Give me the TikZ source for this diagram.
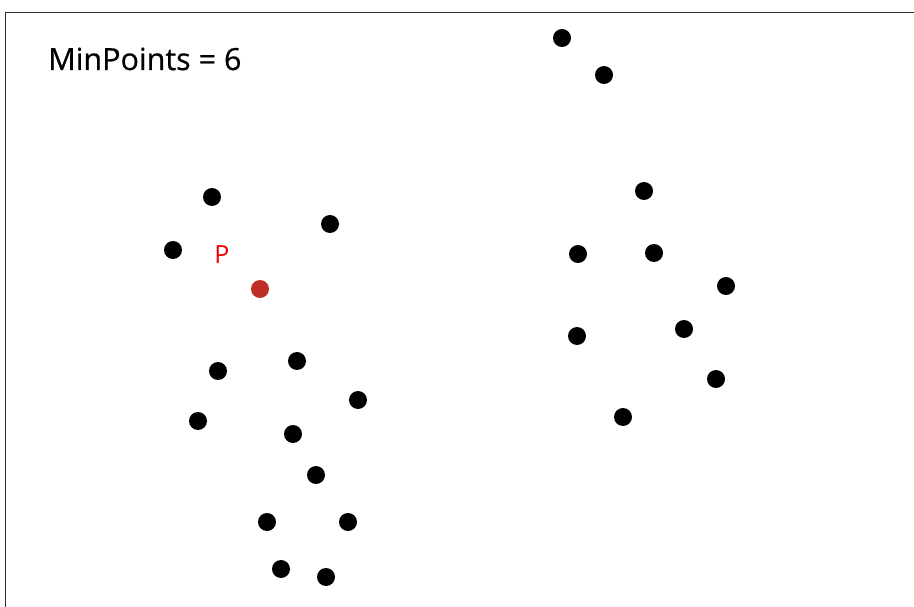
\documentclass[tikz,border=0pt]{standalone}
\usepackage{fontspec}
\setmainfont{Open Sans}
\newfontfamily\titlefont[FakeBold=0.6]{Open Sans}
\definecolor{pred}{RGB}{190,45,38}
\definecolor{ptxt}{RGB}{240,0,0}
\begin{document}
\begin{tikzpicture}[x=1pt,y=-1pt,
  dot/.style={circle,fill=black,inner sep=0pt,minimum size=18pt},
  reddot/.style={circle,fill=pred,inner sep=0pt,minimum size=18pt},
  frame/.style={draw=black!80,line width=0.9pt}]
\useasboundingbox (0,0) rectangle (914,607);
\draw[frame] (5,607) -- (5,12) -- (914,12);
\node[anchor=base west,inner sep=0pt,font=\titlefont\fontsize{30.5}{34}\selectfont] (title) at (48,70) {MinPoints = 6};
\node[anchor=base,inner sep=0pt,text=ptxt,font=\fontsize{25}{28}\selectfont] (ptext) at (222,263) {P};
% left cluster
\node[dot] (a1) at (212,197) {};
\node[dot] (a2) at (330,224) {};
\node[dot] (a3) at (173,250) {};
\node[reddot] (p) at (260,289) {};
\node[dot] (a4) at (297,361) {};
\node[dot] (a5) at (218,371) {};
\node[dot] (a6) at (358,400) {};
\node[dot] (a7) at (198,421) {};
\node[dot] (a8) at (293,434) {};
\node[dot] (a9) at (316,475) {};
\node[dot] (a10) at (267,522) {};
\node[dot] (a11) at (348,522) {};
\node[dot] (a12) at (281,569) {};
\node[dot] (a13) at (326,577) {};
% right cluster
\node[dot] (b1) at (562,38) {};
\node[dot] (b2) at (604,75) {};
\node[dot] (b3) at (644,191) {};
\node[dot] (b4) at (578,254) {};
\node[dot] (b5) at (654,253) {};
\node[dot] (b6) at (726,286) {};
\node[dot] (b7) at (684,329) {};
\node[dot] (b8) at (577,336) {};
\node[dot] (b9) at (716,379) {};
\node[dot] (b10) at (623,417) {};
\end{tikzpicture}
\end{document}
